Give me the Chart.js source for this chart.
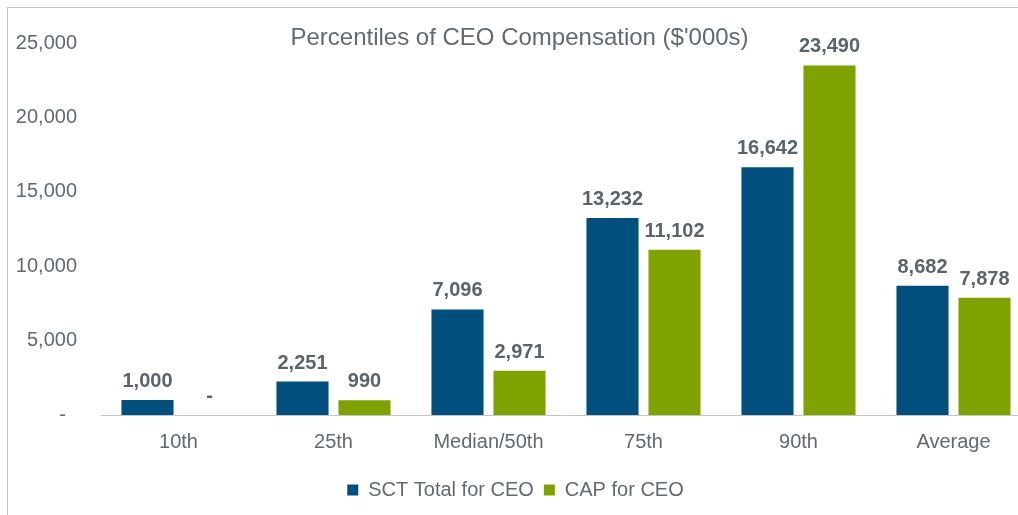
<!DOCTYPE html>
<html><head><meta charset="utf-8">
<script src="https://cdn.jsdelivr.net/npm/chart.js@4.4.1/dist/chart.umd.min.js"></script>
<style>
html,body{margin:0;padding:0;background:#fff;overflow:hidden;width:1018px;height:515px;}
#frame{position:absolute;left:7px;top:7px;width:1100px;height:600px;border-left:1px solid #c4c4c4;border-top:1px solid #c4c4c4;}
#wrap{position:absolute;left:0;top:0;width:1040px;height:515px;}
</style></head><body>
<div id="frame"></div>
<div id="wrap"><canvas id="c" width="1040" height="515"></canvas></div>
<script>
const categories = ['10th','25th','Median/50th','75th','90th','Average'];
const sctValues = [1000,2251,7096,13232,16642,8682];
const capValues = [0,990,2971,11102,23490,7878];
const seriesNames = ['SCT Total for CEO','CAP for CEO'];
const yTicks = [0,5000,10000,15000,20000,25000];
const chartTitle = "Percentiles of CEO Compensation ($'000s)";

const BLUE = '#004F7D', GREEN = '#80A200', TXT = '#5F6A73', LBL = '#59646D';
const FONT = 'Arial, "Liberation Sans", sans-serif';
const fmt = v => v.toLocaleString('en-US');

const titlePlugin = {
  id: 'insideTitle',
  afterDraw(chart) {
    const ctx = chart.ctx;
    ctx.save();
    ctx.font = '24px ' + FONT;
    ctx.fillStyle = TXT;
    ctx.textAlign = 'center';
    ctx.textBaseline = 'alphabetic';
    ctx.fillText(chartTitle, 519.5, 45);
    ctx.restore();
  }
};
const labelPlugin = {
  id: 'valueLabels',
  afterDatasetsDraw(chart) {
    const ctx = chart.ctx;
    ctx.save();
    ctx.font = 'bold 20px ' + FONT;
    ctx.fillStyle = LBL;
    ctx.textAlign = 'center';
    ctx.textBaseline = 'alphabetic';
    chart.data.datasets.forEach((ds, di) => {
      chart.getDatasetMeta(di).data.forEach((el, i) => {
        const v = ds.data[i];
        ctx.fillText(v === 0 ? '-' : fmt(v), el.x, el.y - 13);
      });
    });
    ctx.restore();
  }
};

new Chart(document.getElementById('c'), {
  type: 'bar',
  data: {
    labels: categories,
    datasets: [
      { label: seriesNames[0], data: sctValues, backgroundColor: BLUE },
      { label: seriesNames[1], data: capValues, backgroundColor: GREEN }
    ]
  },
  options: {
    responsive: false,
    animation: false,
    devicePixelRatio: 1,
    categoryPercentage: 0.8,
    barPercentage: 0.84,
    layout: { padding: { top: 43, left: 0, right: 9, bottom: 5 } },
    plugins: {
      title: { display: false },
      tooltip: { enabled: false },
      legend: {
        position: 'bottom',
        labels: { color: TXT, font: { family: FONT, size: 20 }, boxWidth: 11, boxHeight: 11, padding: 10 }
      }
    },
    scales: {
      x: {
        grid: { display: false, drawTicks: false },
        border: { display: true, color: '#C4C4C4', width: 1 },
        ticks: { color: TXT, font: { family: FONT, size: 20 }, padding: 15 },
        afterFit: s => { s.height = 55; }
      },
      y: {
        min: 0, max: 25000,
        grid: { display: false, drawTicks: false },
        border: { display: false },
        afterBuildTicks: s => { s.ticks = yTicks.map(v => ({ value: v })); },
        ticks: { color: TXT, font: { family: FONT, size: 20 }, padding: 24,
                 callback: v => v === 0 ? '-  ' : fmt(v) },
        afterFit: s => { s.width = 101; }
      }
    }
  },
  plugins: [titlePlugin, labelPlugin]
});
</script>
</body></html>
